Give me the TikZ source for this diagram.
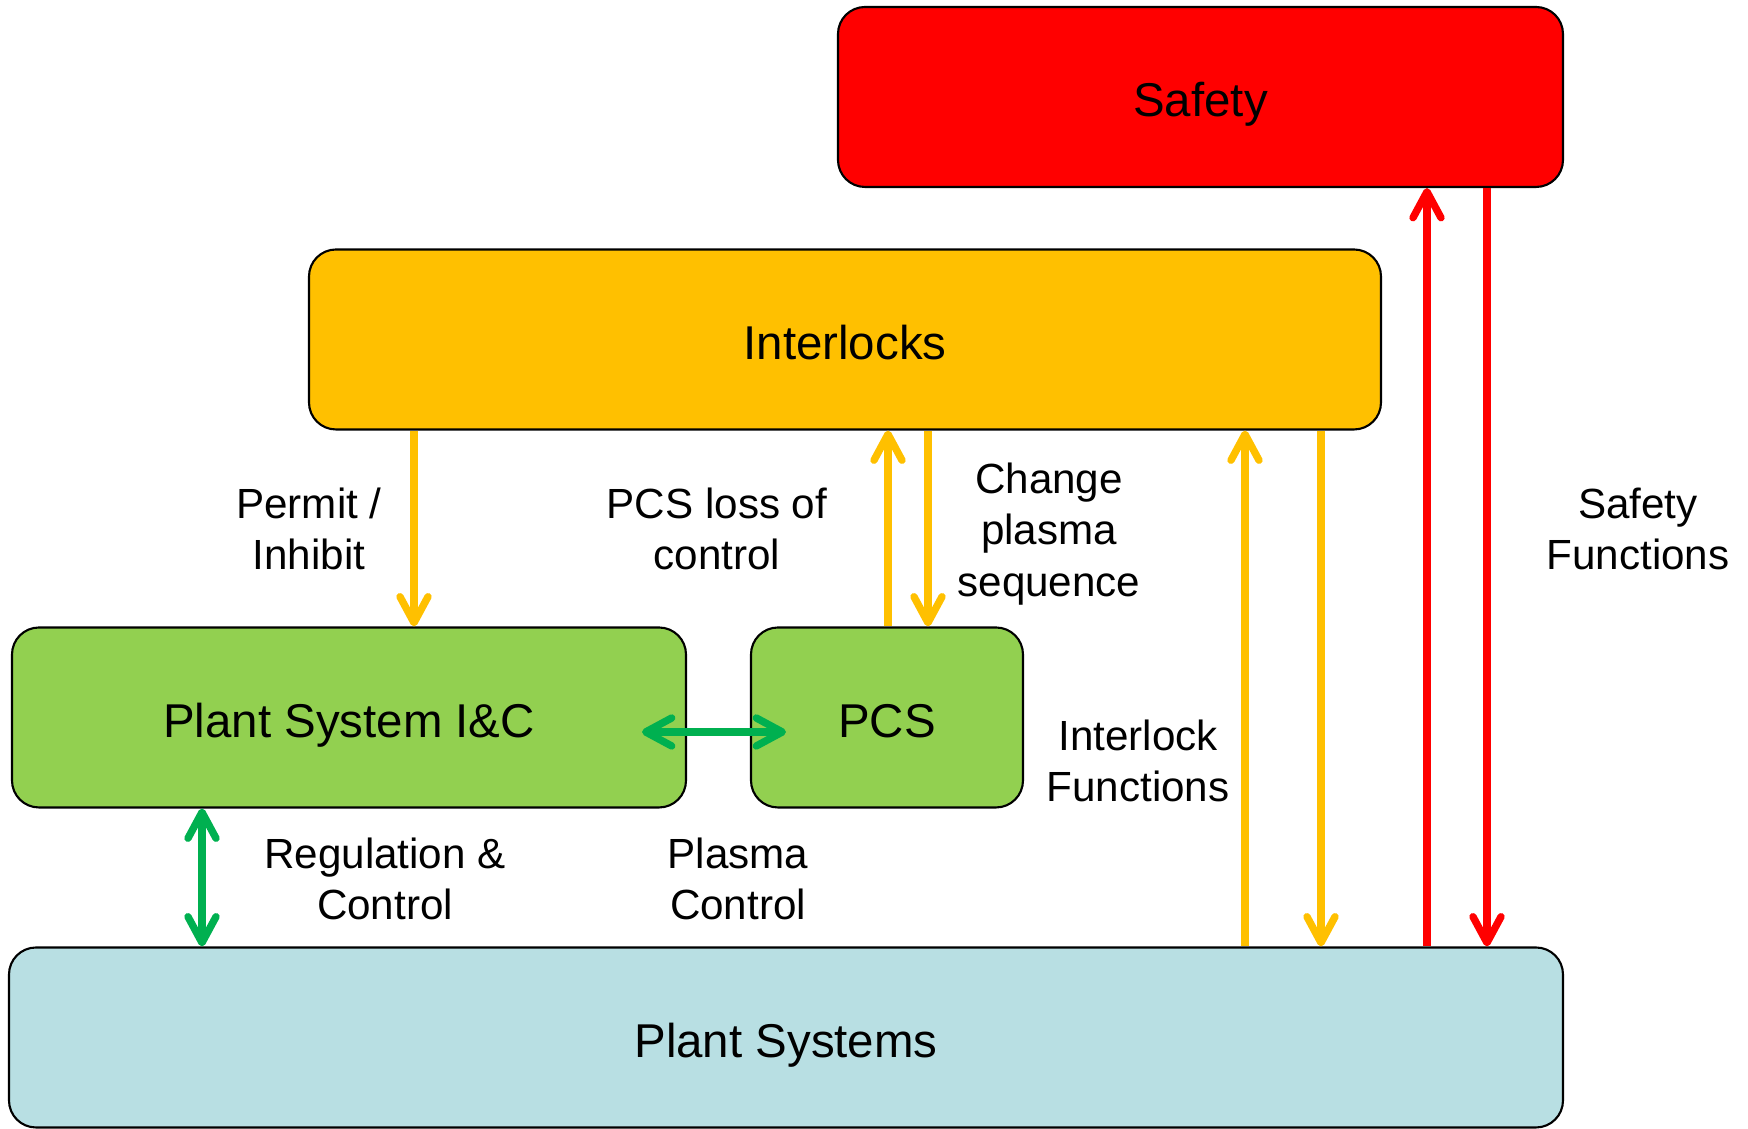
\documentclass[tikz,border=0pt]{standalone}
\usepackage{fontspec}
\setmainfont{Liberation Sans}
\usepackage{tikz}
\usepackage{xcolor}
\usetikzlibrary{arrows.meta}
\definecolor{safety-red}{HTML}{FF0000}
\definecolor{interlock-yellow}{HTML}{FFC000}
\definecolor{ic-green}{HTML}{92D050}
\definecolor{link-green}{HTML}{00B050}
\definecolor{plant-blue}{HTML}{B8DFE3}
\tikzset{
    sys-box/.style = {draw=black, line width=0.6pt, rectangle, rounded corners=0.27cm, inner sep=0pt, minimum height=1.8cm, text height=0.6cm, text depth=0.2cm, font=\fontsize{13.5}{16}\selectfont},
    flow-label/.style = {align=center, inner sep=0pt, font=\fontsize{12}{14.7}\selectfont},
    flow-arrow/.style = {line width=2.1pt},
}

\begin{document}
\begin{tikzpicture}[>={Straight Barb[round, length=2.6mm, width=2.8mm]}]
\useasboundingbox (0,0) rectangle (17.48,11.29);
\node[sys-box, fill=safety-red, minimum width=7.25cm] (safety) at (12.005,10.32) {Safety};
\node[sys-box, fill=interlock-yellow, minimum width=10.72cm] (interlocks) at (8.45,7.895) {Interlocks};
\node[sys-box, fill=ic-green, minimum width=6.74cm] (plant-ic) at (3.49,4.115) {Plant System I\&C};
\node[sys-box, fill=ic-green, minimum width=2.72cm] (pcs) at (8.87,4.115) {PCS};
\node[sys-box, fill=plant-blue, minimum width=15.54cm] (plant) at (7.86,0.915) {Plant Systems};

\coordinate (permit-x) at (4.14,0);
\coordinate (pcs-up-x) at (8.88,0);
\coordinate (pcs-down-x) at (9.28,0);
\coordinate (il-up-x) at (12.45,0);
\coordinate (il-down-x) at (13.21,0);
\coordinate (sf-up-x) at (14.27,0);
\coordinate (sf-down-x) at (14.87,0);
\coordinate (rc-x) at (2.02,0);
\coordinate (link-l) at (6.42,3.97);
\coordinate (link-r) at (7.86,3.97);

\draw[flow-arrow, interlock-yellow, ->] (interlocks.south -| permit-x) -- (plant-ic.north -| permit-x);
\draw[flow-arrow, interlock-yellow, ->] (pcs.north -| pcs-up-x) -- (interlocks.south -| pcs-up-x);
\draw[flow-arrow, interlock-yellow, ->] (interlocks.south -| pcs-down-x) -- (pcs.north -| pcs-down-x);
\draw[flow-arrow, interlock-yellow, ->] (plant.north -| il-up-x) -- (interlocks.south -| il-up-x);
\draw[flow-arrow, interlock-yellow, ->] (interlocks.south -| il-down-x) -- (plant.north -| il-down-x);
\draw[flow-arrow, safety-red, ->] (plant.north -| sf-up-x) -- (safety.south -| sf-up-x);
\draw[flow-arrow, safety-red, ->] (safety.south -| sf-down-x) -- (plant.north -| sf-down-x);
\draw[flow-arrow, link-green, <->] (plant-ic.south -| rc-x) -- (plant.north -| rc-x);
\draw[flow-arrow, link-green, <->] (link-l) -- (link-r);

\node[flow-label] (permit-label) at (3.09,6.00) {Permit /\\Inhibit};
\node[flow-label] (loss-label) at (7.17,6.00) {PCS loss of\\control};
\node[flow-label] (change-label) at (10.49,5.95) {Change\\plasma\\sequence};
\node[flow-label] (safety-label) at (16.38,6.00) {Safety\\Functions};
\node[flow-label] (interlock-label) at (11.38,3.68) {Interlock\\Functions};
\node[flow-label] (regulation-label) at (3.85,2.50) {Regulation \&\\Control};
\node[flow-label] (plasma-label) at (7.38,2.50) {Plasma\\Control};
\end{tikzpicture}
\end{document}
